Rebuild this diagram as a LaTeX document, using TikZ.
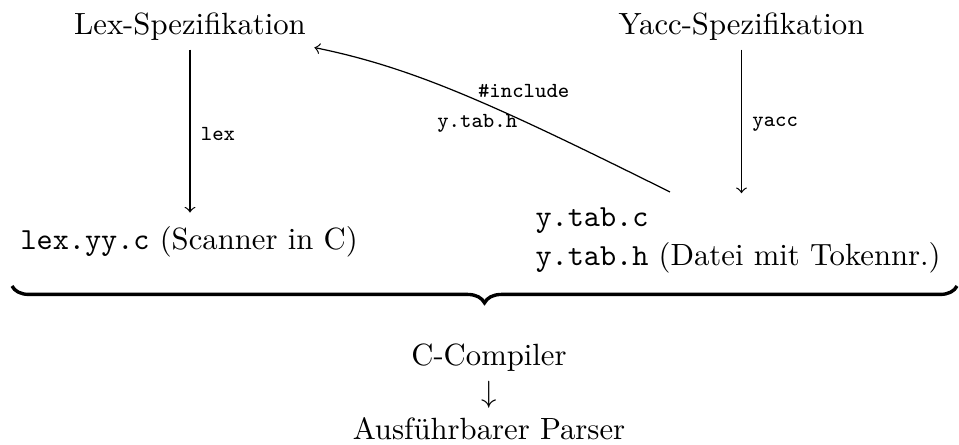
\documentclass[tikz,border=0pt]{standalone}
\usetikzlibrary{decorations.pathreplacing}
\begin{document}
\begin{tikzpicture}[x=0.3257pt, y=-0.3257pt,
  txt/.style={inner sep=0pt},
  lbl/.style={font=\scriptsize\ttfamily},
  flow/.style={->, shorten <=2.6pt, shorten >=4.5pt},
  bracestyle/.style={decorate, decoration={brace, amplitude=5.5pt}, line width=1.1pt}]
\useasboundingbox (0,0) rectangle (959,445);

% sources
\node[txt, anchor=base] (lexspec) at (190,35) {Lex-Spezifikation};
\node[txt, anchor=base] (yaccspec) at (741.5,35) {Yacc-Spezifikation};

% generated files
\node[txt, anchor=base west] (lexout) at (20,250) {\texttt{lex.yy.c} (Scanner in C)};
\node[txt, anchor=north west, align=left] (ytab) at (535,207)
  {\texttt{y.tab.c}\\[0.7pt]\texttt{y.tab.h} (Datei mit Tokennr.)};

% tool runs
\draw[flow] (lexspec.south) -- (lexspec.south |- lexout.north)
  node[midway, right, lbl] (lexlbl) {lex};
\draw[flow] (yaccspec.south) -- (yaccspec.south |- ytab.north)
  node[midway, right, lbl] (yacclbl) {yacc};

% header included by the scanner
\draw[->] ([shift={(135,-15)}]ytab.north west)
  .. controls +(-179,-89) and +(98,20) .. ([shift={(8,6)}]lexspec.south east)
  node[pos=0.45, lbl, inner sep=0pt, anchor=base west, shift={(-1,-3.6)}] (inclbl) {\#include}
  node[pos=0.35, lbl, inner sep=0pt, anchor=north east, shift={(4,-3)}] (hlbl) {y.tab.h};

% everything goes to the C compiler
\draw[bracestyle] (957,286) -- (12,286);
\node[txt, anchor=north, align=center] (cc) at (489,343.4)
  {C-Compiler\\$\downarrow$\\Ausführbarer Parser};
\end{tikzpicture}
\end{document}
